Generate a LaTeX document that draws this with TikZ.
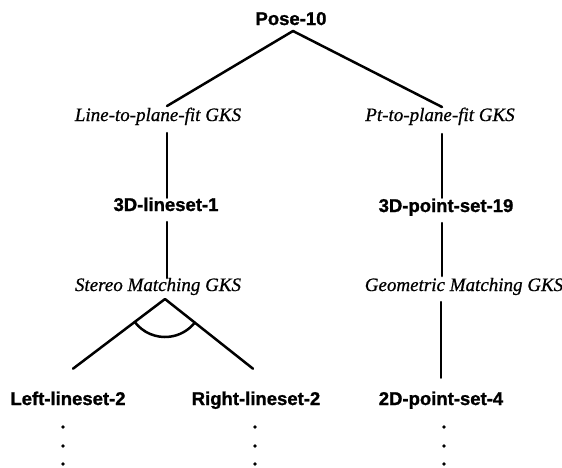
\documentclass[tikz,border=0pt]{standalone}
\usepackage{fontspec}
\setmainfont{Liberation Serif}
\setsansfont{Liberation Sans}
\newfontfamily\heavysans{Liberation Sans}[FakeBold=1.2]
\newfontfamily\darkserif{Liberation Serif}[FakeBold=0.7]
\usetikzlibrary{calc}
\tikzset{
  setnode/.style={font=\heavysans\bfseries\fontsize{18.5}{20}\selectfont,
    inner sep=0pt, outer sep=0pt, anchor=base, text height=13.3pt, text depth=0pt},
  gksnode/.style={font=\darkserif\itshape\fontsize{19}{21}\selectfont,
    inner sep=0pt, outer sep=0pt, anchor=base, text height=13pt, text depth=4pt},
  edge/.style={line width=2.5pt, line cap=round},
  dotmark/.style={fill=black}
}
\begin{document}
\begin{tikzpicture}[x=1pt, y=-1pt]
\useasboundingbox (0,0) rectangle (562,467);

% tree nodes (placed by baseline)
\node[setnode] (pose)  at (291,25)  {Pose-10};
\node[gksnode] (ltp)   at (158,121) {Line-to-plane-fit GKS};
\node[gksnode] (ptp)   at (440,121) {Pt-to-plane-fit GKS};
\node[setnode] (lset)  at (166,211) {3D-lineset-1};
\node[setnode] (pset)  at (446,212) {3D-point-set-19};
\node[gksnode] (smg)   at (158,291) {Stereo Matching GKS};
\node[gksnode] (gmg)   at (464,291) {Geometric Matching GKS};
\node[setnode] (left)  at (68,405)  {Left-lineset-2};
\node[setnode] (right) at (256,405) {Right-lineset-2};
\node[setnode] (p2d)   at (441,405) {2D-point-set-4};

% top split
\draw[edge] ($(pose.south)+(2,6)$) -- ($(ltp.north)+(9,-2)$);
\draw[edge] ($(pose.south)+(2,6)$) -- ($(ptp.north)+(2,-1)$);

% left branch
\draw[edge] ($(ltp.south)+(9,8)$) -- ($(lset.north)+(1,0)$);
\draw[edge] ($(lset.south)+(1,11)$) -- ($(smg.north)+(9,0)$);
\draw[edge] ($(smg.south)+(7,4)$) -- ($(left.north)+(5,-23)$);
\draw[edge] ($(smg.south)+(7,4)$) -- ($(right.north)+(-3,-23)$);
% AND arc joining the two stereo branches
\draw[edge] ($(smg.south)+(7,4)$) ++(217.3:38pt)
  arc[start angle=217.3, end angle=321.5, radius=38pt];

% right branch
\draw[edge] ($(ptp.south)+(2,9)$) -- ($(pset.north)+(-4,-1)$);
\draw[edge] ($(pset.south)+(-4,11)$) -- ($(gmg.north)+(-22,-2)$);
\draw[edge] ($(gmg.south)+(-23,7)$) -- ($(p2d.north)+(0,-14)$);

% continuation dots
\foreach \n/\dx in {left/-5, right/-1, p2d/3}{
  \foreach \dy in {22,41,59}{
    \fill[dotmark] ($(\n.south)+(\dx,\dy)$) circle[radius=1.9pt];
  }
}
\end{tikzpicture}
\end{document}
